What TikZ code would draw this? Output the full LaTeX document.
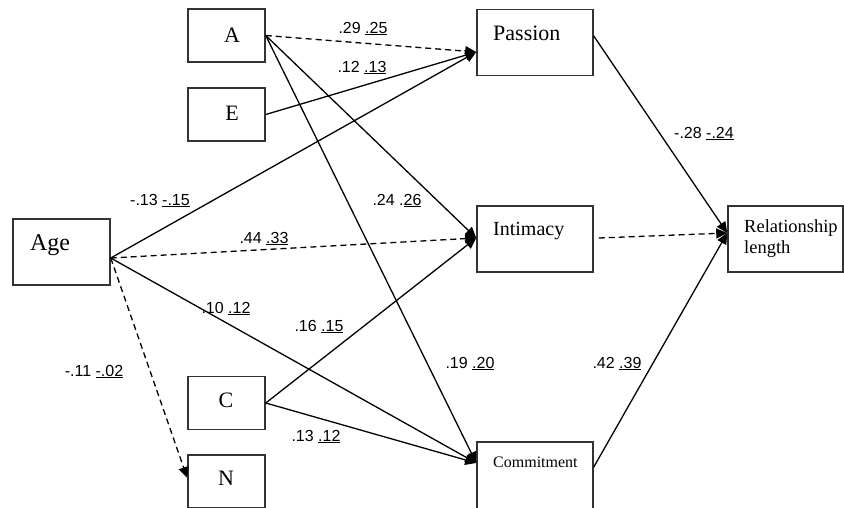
\documentclass[tikz,border=0pt]{standalone}
\usepackage{fontspec}
\setmainfont{Liberation Serif}
\setsansfont{Liberation Sans}
\usetikzlibrary{arrows.meta}
\definecolor{boxline}{HTML}{333333}
\tikzset{
  box/.style={draw=boxline, line width=1.5pt, rectangle, inner sep=0pt},
  small/.style={box, minimum width=77pt, minimum height=53pt},
  big/.style={box, minimum width=116pt, minimum height=66pt},
  conn/.style={draw=black, line width=1.3pt, -{Triangle[length=11pt,width=10pt]}},
  dconn/.style={conn, dash pattern=on 6pt off 4pt},
  coef/.style={font=\sffamily\fontsize{16}{19}\selectfont, inner sep=0pt, anchor=base},
  lbl/.style={font=\fontsize{22}{26}\selectfont, inner sep=0pt},
  blbl/.style={font=\fontsize{22}{26}\selectfont, inner sep=0pt, anchor=base west},
}
\begin{document}
\begin{tikzpicture}[x=1pt,y=-1pt]
\useasboundingbox (0,0) rectangle (844,507);
% boxes
\node[small] (A) at (226.5,35.5) {};
\node[small] (E) at (226.5,114.5) {};
\node[box, minimum width=97pt, minimum height=66pt] (Age) at (61.5,252) {};
\node[small] (C) at (226.5,403) {};
\node[small] (N) at (226.5,481.5) {};
\node[big] (P) at (535,42.5) {};
\node[big] (I) at (535,239) {};
\node[box, minimum width=116pt, minimum height=70pt] (Cm) at (535,477) {};
\node[box, minimum width=115pt, minimum height=66pt] (R) at (785.5,239) {};
% box texts
\node[lbl] (At) at (232,35) {A};
\node[lbl] (Et) at (232,113) {E};
\node[lbl, font=\fontsize{24}{28}\selectfont] (Aget) at (50,245) {Age};
\node[lbl] (Ct) at (226,400) {C};
\node[lbl] (Nt) at (226,478) {N};
\node[blbl] (Pt) at (493,40) {Passion};
\node[blbl, font=\fontsize{20}{24}\selectfont] (It) at (493,235) {Intimacy};
\node[blbl, font=\fontsize{16}{19}\selectfont] (Cmt) at (493,467) {Commitment};
\node[blbl, font=\fontsize{18.5}{22}\selectfont] (Rt1) at (744,232) {Relationship};
\node[blbl, font=\fontsize{18.5}{22}\selectfont] (Rt2) at (744,253) {length};
% connectors
\draw[dconn] (A.east) -- ([yshift=-9.5pt]P.west);
\draw[conn] (E.east) -- ([yshift=-9.5pt]P.west);
\draw[conn] ([yshift=-6pt]Age.east) -- ([yshift=-9.5pt]P.west);
\draw[conn] (A.east) -- ([yshift=1pt]I.west);
\draw[conn] (A.east) -- ([yshift=14pt]Cm.west);
\draw[dconn] ([yshift=-6pt]Age.east) -- ([yshift=1pt]I.west);
\draw[conn] (C.east) -- ([yshift=1pt]I.west);
\draw[conn] ([yshift=-6pt]Age.east) -- ([yshift=14pt]Cm.west);
\draw[conn] (C.east) -- ([yshift=14pt]Cm.west);
\draw[dconn] ([yshift=-6pt]Age.east) -- ([yshift=3.5pt]N.west);
\draw[conn] ([yshift=6.5pt]P.east) -- ([yshift=6pt]R.west);
\draw[dconn] ([xshift=5pt,yshift=1pt]I.east) -- ([yshift=6pt]R.west);
\draw[conn] ([yshift=10pt]Cm.east) -- ([yshift=6pt]R.west);
% coefficients
\node[coef] (c1) at (363,33) {.29 \underline{.25}};
\node[coef] (c2) at (362,72) {.12 \underline{.13}};
\node[coef] (c3) at (160,205) {-.13 \underline{-.15}};
\node[coef] (c4) at (397,205) {.24 .\underline{26}};
\node[coef] (c5) at (264,243) {.44 \underline{.33}};
\node[coef] (c6) at (226,313) {.10 \underline{.12}};
\node[coef] (c7) at (319,331) {.16 \underline{.15}};
\node[coef] (c8) at (94,376) {-.11 \underline{-.02}};
\node[coef] (c9) at (470,368) {.19 \underline{.20}};
\node[coef] (c10) at (617,368) {.42 \underline{.39}};
\node[coef] (c11) at (316,441) {.13 \underline{.12}};
\node[coef] (c12) at (704,138) {-.28 \underline{-.24}};
\end{tikzpicture}
\end{document}
